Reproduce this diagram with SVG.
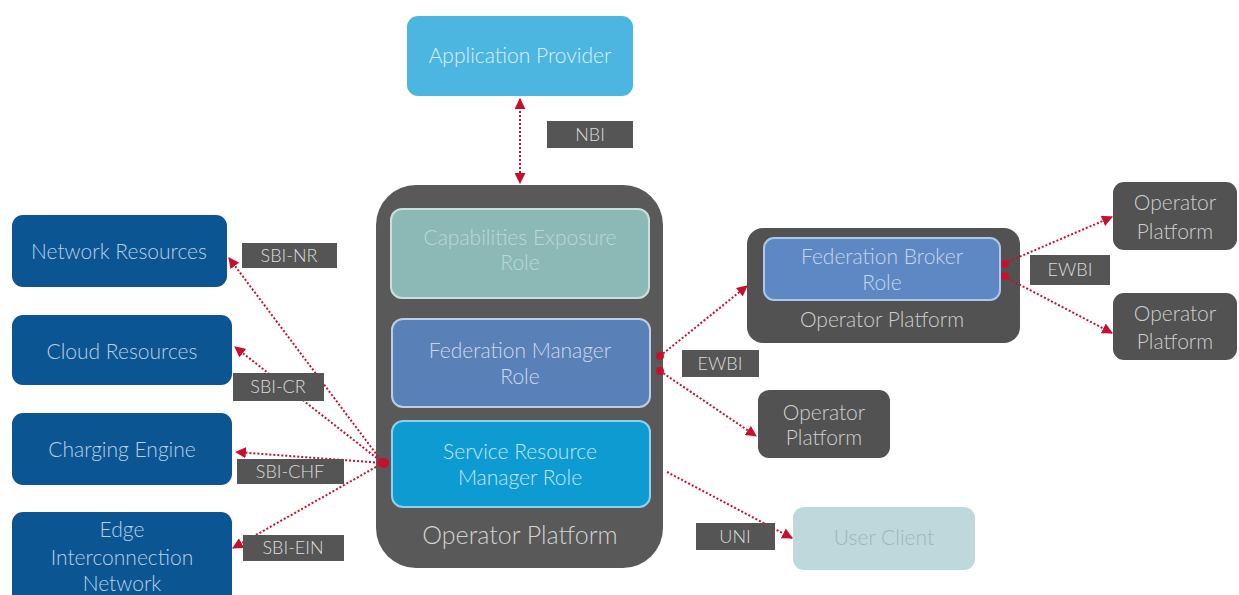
<svg xmlns="http://www.w3.org/2000/svg" width="1239" height="595" viewBox="0 0 1239 595">
<defs>
<marker id="ah" viewBox="0 0 10 10" refX="9" refY="5" markerWidth="11" markerHeight="11" markerUnits="userSpaceOnUse" orient="auto-start-reverse">
<path d="M0,0 L10,5 L0,10 z" fill="#c8102e"/>
</marker>
<style>
text{font-family:Lato,"Liberation Sans",Arial,sans-serif;font-weight:300;text-anchor:middle}
.t{font-size:21px}
.lb rect{fill:#555555}
.lb text{font-size:18px;fill:#dcdcdc}
.blue rect{fill:#0b5592}
.blue text{fill:#b8d0e6}
.op rect{fill:#525252}
.op text{fill:#cfcfcf}
.c{fill:none;stroke:#c8102e;stroke-width:2;stroke-dasharray:2 2}
.dot{fill:#c8102e}
</style>
</defs>
<rect width="1239" height="595" fill="#ffffff"/>

<g id="app-provider">
<rect x="407" y="16" width="226" height="80" rx="11" fill="#4db6e0"/>
<text class="t" x="520" y="63" fill="#dbf0f8">Application Provider</text>
</g>

<g id="central-platform">
<rect x="376" y="185" width="287" height="383" rx="40" fill="#595959"/>
<text x="520" y="544" font-size="25" fill="#d2d2d2">Operator Platform</text>
</g>
<g id="capabilities-exposure">
<rect x="391" y="209" width="258" height="89" rx="11" fill="#8cb9b5" stroke="#c8dfdc" stroke-width="2"/>
<text class="t" x="520" y="245" fill="#bcd8d5">Capabilities Exposure</text>
<text class="t" x="520" y="270" fill="#bcd8d5">Role</text>
</g>
<g id="federation-manager">
<rect x="392" y="319" width="258" height="88" rx="11" fill="#5a80b8" stroke="#bccde4" stroke-width="2"/>
<text class="t" x="520" y="358" fill="#cdd9ec">Federation Manager</text>
<text class="t" x="520" y="384" fill="#cdd9ec">Role</text>
</g>
<g id="service-resource-manager">
<rect x="392" y="421" width="258" height="86" rx="11" fill="#0e9bd1" stroke="#90d1ea" stroke-width="2"/>
<text class="t" x="520" y="459" fill="#c2e6f5">Service Resource</text>
<text class="t" x="520" y="485" fill="#c2e6f5">Manager Role</text>
</g>

<g id="network-resources" class="blue">
<rect x="12" y="215" width="215" height="72" rx="11"/>
<text class="t" x="119" y="259">Network Resources</text>
</g>
<g id="cloud-resources" class="blue">
<rect x="12" y="315" width="220" height="70" rx="11"/>
<text class="t" x="122" y="359">Cloud Resources</text>
</g>
<g id="charging-engine" class="blue">
<rect x="12" y="413" width="220" height="72" rx="11"/>
<text class="t" x="122" y="457">Charging Engine</text>
</g>
<g id="edge-interconnection" class="blue">
<rect x="12" y="512" width="220" height="100" rx="11"/>
<text class="t" x="122" y="537">Edge</text>
<text class="t" x="122" y="565">Interconnection</text>
<text class="t" x="122" y="591">Network</text>
</g>

<g id="broker-platform" class="op">
<rect x="747" y="228" width="273" height="115" rx="16"/>
<text class="t" x="882" y="327">Operator Platform</text>
</g>
<g id="federation-broker">
<rect x="764" y="238" width="236" height="62" rx="10" fill="#5d88c4" stroke="#aec6e8" stroke-width="2"/>
<text class="t" x="882" y="264" fill="#c5d6ee">Federation Broker</text>
<text class="t" x="882" y="290" fill="#c5d6ee">Role</text>
</g>
<g id="operator-platform-1" class="op">
<rect x="1113" y="182" width="124" height="68" rx="11"/>
<text class="t" x="1175" y="210">Operator</text>
<text class="t" x="1175" y="239">Platform</text>
</g>
<g id="operator-platform-2" class="op">
<rect x="1113" y="293" width="124" height="67" rx="11"/>
<text class="t" x="1175" y="321">Operator</text>
<text class="t" x="1175" y="349">Platform</text>
</g>
<g id="operator-platform-3" class="op">
<rect x="758" y="390" width="132" height="68" rx="11"/>
<text class="t" x="824" y="420">Operator</text>
<text class="t" x="824" y="445">Platform</text>
</g>
<g id="user-client">
<rect x="793" y="507" width="182" height="63" rx="11" fill="#bed9dc"/>
<text class="t" x="884" y="545" fill="#9db7ba">User Client</text>
</g>

<g id="connectors">
<line class="c" x1="520" y1="99" x2="520" y2="183" marker-start="url(#ah)" marker-end="url(#ah)"/>
<line class="c" x1="383" y1="463" x2="229" y2="258" marker-end="url(#ah)"/>
<line class="c" x1="383" y1="463" x2="235" y2="347" marker-end="url(#ah)"/>
<line class="c" x1="383" y1="463" x2="236" y2="452" marker-end="url(#ah)"/>
<line class="c" x1="383" y1="463" x2="233" y2="548" marker-end="url(#ah)"/>
<circle class="dot" cx="384" cy="463" r="5"/>
<line class="c" x1="660" y1="356" x2="747" y2="286" marker-end="url(#ah)"/>
<line class="c" x1="660" y1="371" x2="756" y2="436" marker-end="url(#ah)"/>
<circle class="dot" cx="660" cy="356" r="4"/>
<circle class="dot" cx="660" cy="371" r="4"/>
<line class="c" x1="1005" y1="263" x2="1112" y2="217" marker-end="url(#ah)"/>
<line class="c" x1="1005" y1="277" x2="1112" y2="333" marker-end="url(#ah)"/>
<circle class="dot" cx="1005" cy="264" r="4"/>
<circle class="dot" cx="1005" cy="276" r="4"/>
<line class="c" x1="667" y1="472" x2="792" y2="538" marker-end="url(#ah)"/>
</g>

<g id="labels" class="lb">
<g id="label-nbi"><rect x="547" y="121" width="86" height="27"/><text x="590" y="141">NBI</text></g>
<g id="label-sbi-nr"><rect x="242" y="243" width="95" height="25"/><text x="289" y="262">SBI-NR</text></g>
<g id="label-sbi-cr"><rect x="233" y="373" width="91" height="28"/><text x="278" y="393">SBI-CR</text></g>
<g id="label-sbi-chf"><rect x="237" y="459" width="107" height="25"/><text x="290" y="478">SBI-CHF</text></g>
<g id="label-sbi-ein"><rect x="243" y="535" width="101" height="26"/><text x="293" y="554">SBI-EIN</text></g>
<g id="label-ewbi-1"><rect x="682" y="350" width="77" height="27"/><text x="720" y="370">EWBI</text></g>
<g id="label-ewbi-2"><rect x="1030" y="255" width="80" height="30"/><text x="1070" y="276">EWBI</text></g>
<g id="label-uni"><rect x="696" y="523" width="79" height="27"/><text x="735" y="543">UNI</text></g>
</g>
</svg>
